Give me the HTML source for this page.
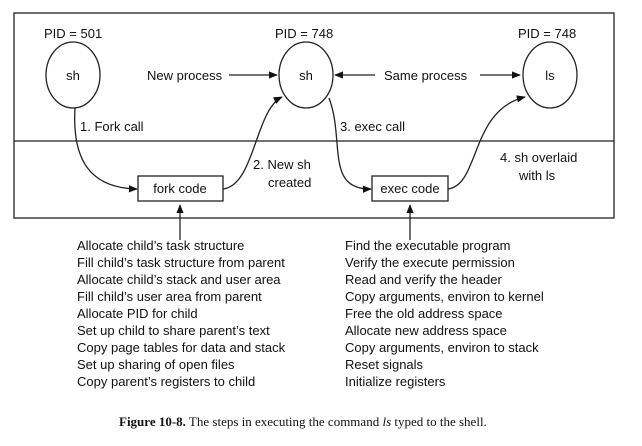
<!DOCTYPE html>
<html><head><style>
body{margin:0;background:#fff;width:642px;height:441px;overflow:hidden}
svg text{font-family:"Liberation Sans",sans-serif;font-size:13px;fill:#111}
</style></head><body>
<svg width="642" height="441" viewBox="0 0 642 441">
<defs><marker id="a" viewBox="0 0 10 10" refX="9" refY="5" markerWidth="7" markerHeight="7" orient="auto"><path d="M0,1 L10,5 L0,9 z" fill="#111"/></marker></defs>
<g fill="none" stroke="#222" stroke-width="1.3">
<rect x="14" y="13" width="600" height="205"/>
<line x1="14" y1="141" x2="614" y2="141"/>
<ellipse cx="73" cy="75" rx="27" ry="33"/>
<ellipse cx="306" cy="75" rx="27" ry="33"/>
<ellipse cx="550" cy="75" rx="27" ry="33"/>
<rect x="138" y="176" width="85" height="25"/>
<rect x="372" y="176" width="76" height="25"/>
<g marker-end="url(#a)">
<path d="M75,108 C72,160 90,188 137,189"/>
<path d="M223,189 C255,185 255,110 282,97"/>
<path d="M329,98 C345,140 325,190 371,189"/>
<path d="M448,189 C480,185 470,110 525,97"/>
<line x1="229" y1="75" x2="277" y2="75"/>
<line x1="375" y1="75" x2="335" y2="75"/>
<line x1="480" y1="75" x2="520" y2="75"/>
<line x1="180" y1="240" x2="180" y2="205"/>
<line x1="410" y1="240" x2="410" y2="205"/>
</g></g>
<text x="44" y="38">PID = 501</text>
<text x="275" y="38">PID = 748</text>
<text x="518" y="38">PID = 748</text>
<text x="73" y="80" text-anchor="middle">sh</text>
<text x="306" y="80" text-anchor="middle">sh</text>
<text x="550" y="80" text-anchor="middle">ls</text>
<text x="147" y="80">New process</text>
<text x="384" y="80">Same process</text>
<text x="80" y="131">1. Fork call</text>
<text x="340" y="131">3. exec call</text>
<text x="253" y="169">2. New sh</text>
<text x="268" y="187">created</text>
<text x="500" y="162">4. sh overlaid</text>
<text x="519" y="180">with ls</text>
<text x="180" y="193" text-anchor="middle">fork code</text>
<text x="410" y="193" text-anchor="middle">exec code</text>
<g>
<text x="77" y="250">Allocate child’s task structure</text>
<text x="77" y="267">Fill child’s task structure from parent</text>
<text x="77" y="284">Allocate child’s stack and user area</text>
<text x="77" y="301">Fill child’s user area from parent</text>
<text x="77" y="318">Allocate PID for child</text>
<text x="77" y="335">Set up child to share parent’s text</text>
<text x="77" y="352">Copy page tables for data and stack</text>
<text x="77" y="369">Set up sharing of open files</text>
<text x="77" y="386">Copy parent’s registers to child</text>
<text x="345" y="250">Find the executable program</text>
<text x="345" y="267">Verify the execute permission</text>
<text x="345" y="284">Read and verify the header</text>
<text x="345" y="301">Copy arguments, environ to kernel</text>
<text x="345" y="318">Free the old address space</text>
<text x="345" y="335">Allocate new address space</text>
<text x="345" y="352">Copy arguments, environ to stack</text>
<text x="345" y="369">Reset signals</text>
<text x="345" y="386">Initialize registers</text>
</g>
<text x="119" y="426" style="font-family:'Liberation Serif',serif;font-size:13px"><tspan font-weight="bold">Figure 10-8.</tspan> The steps in executing the command <tspan font-style="italic">ls</tspan> typed to the shell.</text>
</svg>
</body></html>
